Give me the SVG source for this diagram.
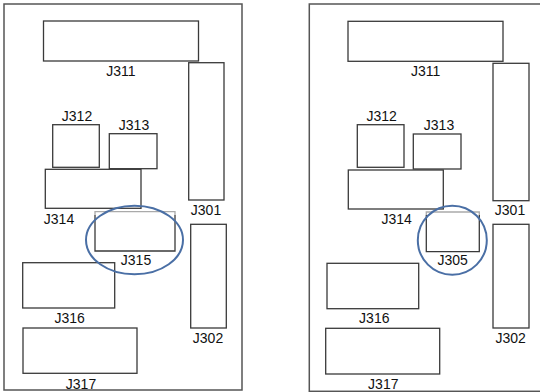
<svg xmlns="http://www.w3.org/2000/svg" width="540" height="392" viewBox="0 0 540 392">
<style>
.frame{fill:#fff;stroke:#555;stroke-width:1.5}
.box{fill:#fff;stroke:#3a3a3a;stroke-width:1.3}
.lbl{font-family:"Liberation Sans",Arial,sans-serif;font-size:14px;fill:#111;text-anchor:middle}
.hl{fill:none;stroke:#4a6fa5;stroke-width:2}
.top{stroke:#aaa;stroke-width:1.3;fill:none}
</style>
<rect width="540" height="392" fill="#fff"/>
<g id="left-board">
<rect class="frame" x="4" y="4" width="238" height="386"/>
<g id="L-J311"><rect class="box" x="43.5" y="21" width="155" height="40"/><text class="lbl" x="121" y="76">J311</text></g>
<g id="L-J301"><rect class="box" x="188.7" y="62.7" width="35.3" height="137.3"/><text class="lbl" x="206" y="215">J301</text></g>
<g id="L-J312"><rect class="box" x="52.7" y="124.7" width="46.6" height="42.6"/><text class="lbl" x="77" y="120.7">J312</text></g>
<g id="L-J313"><rect class="box" x="109.3" y="133.7" width="47.7" height="35"/><text class="lbl" x="134" y="130">J313</text></g>
<g id="L-J314"><rect class="box" x="45.3" y="169.3" width="95.7" height="39"/><text class="lbl" x="59" y="224.3">J314</text></g>
<g id="L-J315"><path class="box" d="M95,215 V251 H175 V215"/><path class="top" d="M95,215 V211.7 H175 V215"/><text class="lbl" x="136" y="265">J315</text></g>
<g id="L-J316"><rect class="box" x="22.7" y="262.7" width="92" height="45.3"/><text class="lbl" x="69.7" y="322.7">J316</text></g>
<g id="L-J302"><rect class="box" x="190.7" y="224.3" width="35.6" height="103.7"/><text class="lbl" x="208" y="342.7">J302</text></g>
<g id="L-J317"><rect class="box" x="23" y="328" width="114" height="45.3"/><text class="lbl" x="81" y="389">J317</text></g>
<g id="L-highlight"><ellipse class="hl" cx="134.5" cy="240" rx="48.5" ry="34.3"/></g>
</g>
<g id="right-board">
<rect class="frame" x="309.3" y="4" width="240" height="387.3"/>
<g id="R-J311"><rect class="box" x="348" y="21.3" width="155" height="40"/><text class="lbl" x="425.7" y="76">J311</text></g>
<g id="R-J301"><rect class="box" x="493" y="63.3" width="36" height="137.4"/><text class="lbl" x="510" y="215">J301</text></g>
<g id="R-J312"><rect class="box" x="357.3" y="124.7" width="46.7" height="42.6"/><text class="lbl" x="381.7" y="120.7">J312</text></g>
<g id="R-J313"><rect class="box" x="413.3" y="134" width="47.7" height="35"/><text class="lbl" x="439" y="130">J313</text></g>
<g id="R-J314"><rect class="box" x="348.3" y="170" width="95" height="39"/><text class="lbl" x="396.7" y="224">J314</text></g>
<g id="R-J305"><path class="box" d="M426.3,215 V251.7 H479.3 V215"/><path class="top" d="M426.3,215 V212 H479.3 V215"/><text class="lbl" x="452.7" y="265">J305</text></g>
<g id="R-J316"><rect class="box" x="327" y="263.3" width="91.7" height="45.4"/><text class="lbl" x="374.3" y="322.7">J316</text></g>
<g id="R-J302"><rect class="box" x="493" y="224.3" width="36" height="103.7"/><text class="lbl" x="510.7" y="342.7">J302</text></g>
<g id="R-J317"><rect class="box" x="325.7" y="328.3" width="114" height="45.7"/><text class="lbl" x="383.3" y="389">J317</text></g>
<g id="R-highlight"><circle class="hl" cx="452.3" cy="240.2" r="34.5"/></g>
</g>
</svg>
